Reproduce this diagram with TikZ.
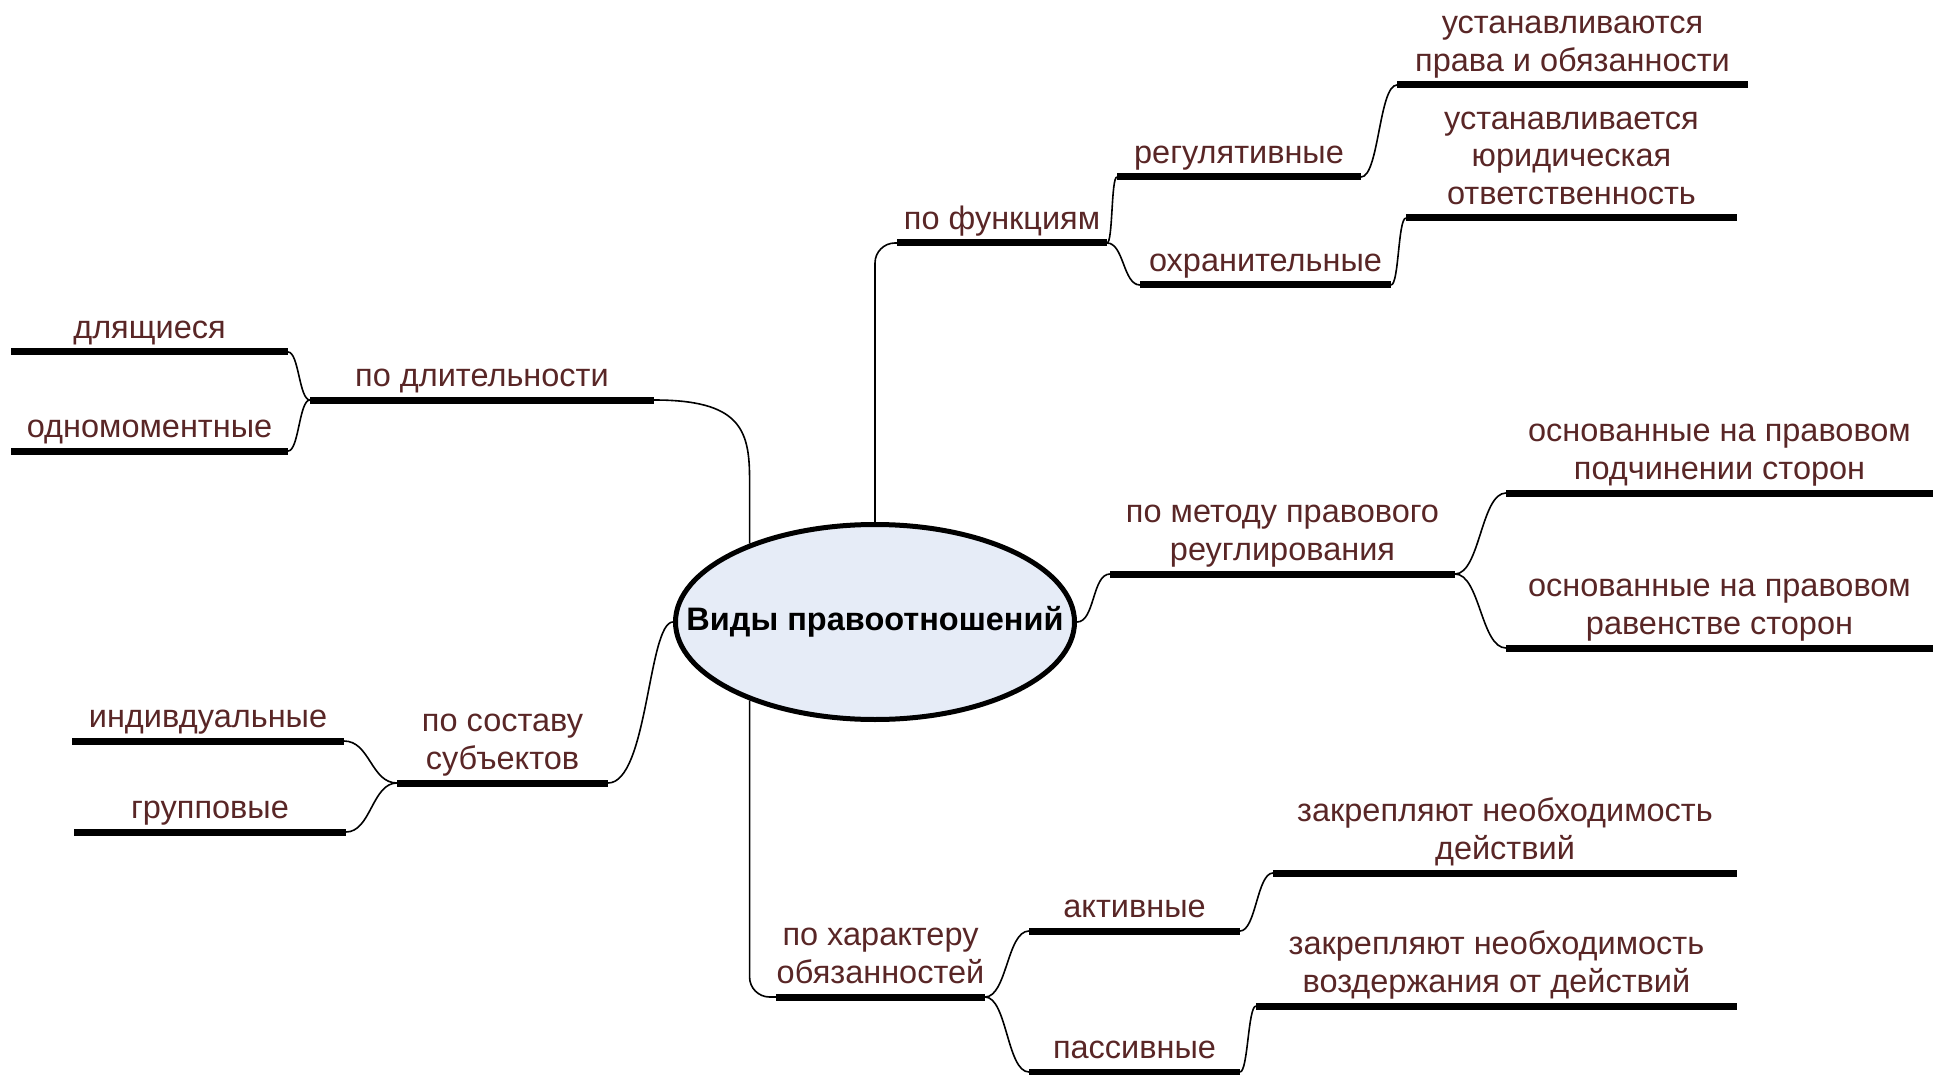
\documentclass[tikz,border=0pt]{standalone}
\usepackage{fontspec}
\setmainfont{Liberation Sans}
\usetikzlibrary{shapes.geometric}
\definecolor{lbltext}{RGB}{89,38,38}
\definecolor{rootfill}{RGB}{230,236,247}
\newcommand\lblfont{\fontsize{32.5}{37.4}\selectfont}

\begin{document}
\begin{tikzpicture}[x=1pt, y=-1pt,
    bar/.style={line width=7pt},
    link/.style={line width=1.6pt},
    lbl/.style={anchor=south, inner sep=0pt, align=center, text=lbltext, font=\lblfont, execute at end node=\strut},
    root/.style={ellipse, draw, line width=5pt, fill=rootfill, minimum width=399pt, minimum height=195pt, inner sep=0pt},
    rootlbl/.style={inner sep=0pt, font=\lblfont\bfseries}]
  \useasboundingbox (0,0) rectangle (1939,1075);

  \node[root] (root) at (875,622) {};
  \node[rootlbl] (rootText) at (root.center) {Виды правоотношений};

  % по функциям
  \draw[bar] (897,243) coordinate (fnL) -- (1107,243) coordinate (fnR);
  \node[lbl] (fn) at (1002,240.5) {по функциям};
  \draw[bar] (1117,177) coordinate (regL) -- (1361,177) coordinate (regR);
  \node[lbl] (reg) at (1239,174.5) {регулятивные};
  \draw[bar] (1140,285) coordinate (okhL) -- (1391,285) coordinate (okhR);
  \node[lbl] (okh) at (1265.5,282.5) {охранительные};
  \draw[bar] (1397,85) coordinate (prvL) -- (1748,85) coordinate (prvR);
  \node[lbl] (prv) at (1572.5,82.5) {устанавливаются\\права и обязанности};
  \draw[bar] (1406,218) coordinate (otvL) -- (1737,218) coordinate (otvR);
  \node[lbl] (otv) at (1571.5,215.5) {устанавливается\\юридическая\\ответственность};

  % по методу
  \draw[bar] (1110,574) coordinate (metL) -- (1455,574) coordinate (metR);
  \node[lbl] (met) at (1282.5,571.5) {по методу правового\\реуглирования};
  \draw[bar] (1506,493) coordinate (podL) -- (1933,493) coordinate (podR);
  \node[lbl] (pod) at (1719.5,490.5) {основанные на правовом\\подчинении сторон};
  \draw[bar] (1506,648) coordinate (ravL) -- (1933,648) coordinate (ravR);
  \node[lbl] (rav) at (1719.5,645.5) {основанные на правовом\\равенстве сторон};

  % по характеру
  \draw[bar] (776,997) coordinate (chrL) -- (985,997) coordinate (chrR);
  \node[lbl] (chr) at (880.5,994.5) {по характеру\\обязанностей};
  \draw[bar] (1029,931) coordinate (actL) -- (1240,931) coordinate (actR);
  \node[lbl] (act) at (1134.5,928.5) {активные};
  \draw[bar] (1029,1072) coordinate (pasL) -- (1240,1072) coordinate (pasR);
  \node[lbl] (pas) at (1134.5,1069.5) {пассивные};
  \draw[bar] (1273,873) coordinate (ndL) -- (1737,873) coordinate (ndR);
  \node[lbl] (nd) at (1505,870.5) {закрепляют необходимость\\действий};
  \draw[bar] (1256,1006) coordinate (vdL) -- (1737,1006) coordinate (vdR);
  \node[lbl] (vd) at (1496.5,1003.5) {закрепляют необходимость\\воздержания от действий};

  % по длительности
  \draw[bar] (310,400) coordinate (durL) -- (654,400) coordinate (durR);
  \node[lbl] (dur) at (482,397.5) {по длительности};
  \draw[bar] (11,352) coordinate (dlL) -- (288,352) coordinate (dlR);
  \node[lbl] (dl) at (149.5,349.5) {длящиеся};
  \draw[bar] (11,451) coordinate (odL) -- (288,451) coordinate (odR);
  \node[lbl] (od) at (149.5,448.5) {одномоментные};

  % по составу
  \draw[bar] (397,783) coordinate (cmpL) -- (608,783) coordinate (cmpR);
  \node[lbl] (cmp) at (502.5,780.5) {по составу\\субъектов};
  \draw[bar] (72,741) coordinate (indL) -- (344,741) coordinate (indR);
  \node[lbl] (ind) at (208,738.5) {индивдуальные};
  \draw[bar] (74,832) coordinate (grpL) -- (346,832) coordinate (grpR);
  \node[lbl] (grp) at (210,829.5) {групповые};

  % links
  \draw[link, rounded corners=20pt] (root.north) |- (fnL);
  \draw[link] (root.148) -- ++(0,-65) .. controls +(0,-50) and +(85,0) .. (durR);
  \draw[link] (root.west) .. controls +(-25,0) and +(40,0) .. (cmpR);
  \draw[link] (root.east) .. controls +(18,0) and +(-18,0) .. (metL);
  \draw[link, rounded corners=20pt] (root.212) |- (chrL);

  \draw[link] (fnR) .. controls +(6,0) and +(-6,0) .. (regL);
  \draw[link] (fnR) .. controls +(17,0) and +(-17,0) .. (okhL);
  \draw[link] (regR) .. controls +(18,0) and +(-18,0) .. (prvL);
  \draw[link] (okhR) .. controls +(8,0) and +(-8,0) .. (otvL);
  \draw[link] (metR) .. controls +(25,0) and +(-25,0) .. (podL);
  \draw[link] (metR) .. controls +(25,0) and +(-25,0) .. (ravL);
  \draw[link] (chrR) .. controls +(22,0) and +(-22,0) .. (actL);
  \draw[link] (chrR) .. controls +(22,0) and +(-22,0) .. (pasL);
  \draw[link] (actR) .. controls +(16,0) and +(-16,0) .. (ndL);
  \draw[link] (pasR) .. controls +(8,0) and +(-8,0) .. (vdL);
  \draw[link] (durL) .. controls +(-11,0) and +(11,0) .. (dlR);
  \draw[link] (durL) .. controls +(-11,0) and +(11,0) .. (odR);
  \draw[link] (cmpL) .. controls +(-26,0) and +(26,0) .. (indR);
  \draw[link] (cmpL) .. controls +(-25,0) and +(25,0) .. (grpR);
\end{tikzpicture}
\end{document}
